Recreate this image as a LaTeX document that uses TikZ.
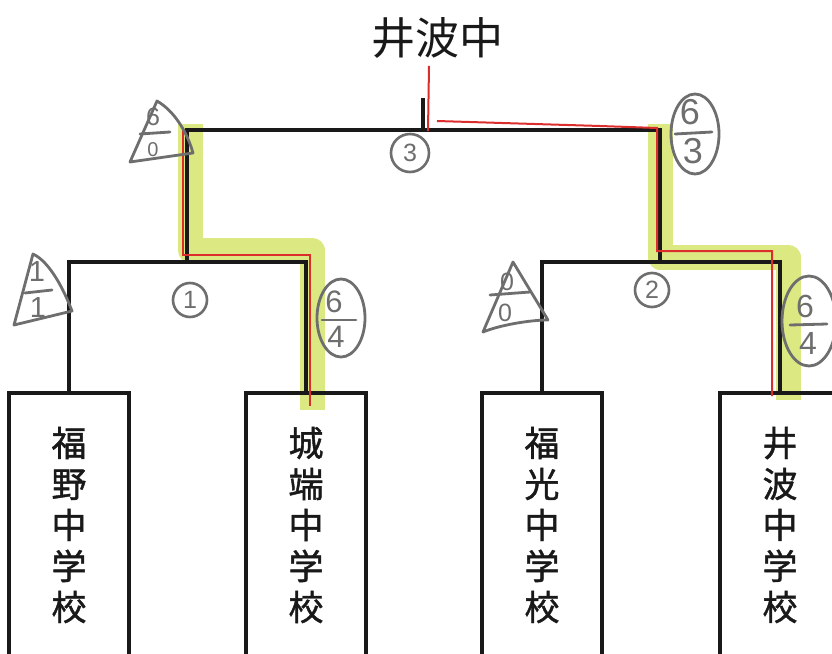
\documentclass[tikz,border=0pt]{standalone}
\usepackage{fontspec}
\setmainfont{Liberation Sans}
\newfontfamily\jp{Noto Sans CJK JP}
\newfontfamily\jpm{Noto Sans CJK JP}[FakeBold=1.2]
\usetikzlibrary{shapes.geometric}
\definecolor{hl}{RGB}{212,228,100}
\definecolor{pen}{RGB}{110,110,110}
\definecolor{redpen}{RGB}{220,45,45}
\definecolor{ink}{RGB}{25,25,25}
\newcommand\fsz[1]{\fontsize{#1}{#1}\selectfont}
\begin{document}
\begin{tikzpicture}[x=1pt,y=-1pt,
  team/.style={draw=ink,line width=3.4pt,minimum width=120pt,minimum height=264pt,inner sep=0pt,font=\jpm\fontsize{35}{41}\selectfont,align=center,text=ink},
  bracket/.style={draw=ink,line width=3.4pt},
  redline/.style={draw=redpen,line width=2pt},
  hilite/.style={draw=hl,line width=25pt,opacity=0.8,line join=round},
  penline/.style={draw=pen,line width=2.8pt,line cap=round,line join=round},
  dig/.style={text=pen,inner sep=0pt},
  circnum/.style={circle,draw=pen,line width=2.6pt,minimum size=34pt,inner sep=0pt,text=pen,font=\fsz{25}},
  oval/.style={ellipse,draw=pen,line width=2.8pt,inner sep=0pt}]
\fill[white] (0,0) rectangle (832,653);
\useasboundingbox (0,0) rectangle (832,653);
\clip (0,0) rectangle (832,653);

% highlights
\draw[hilite] (190,124) -- (190,250) -- (312,250) -- (312,410);
\draw[hilite] (660,124) -- (660,257) -- (788,257) -- (788,400);

% team boxes
\node[team] (b1) at (69,525) {福\\野\\中\\学\\校};
\node[team] (b2) at (306,525) {城\\端\\中\\学\\校};
\node[team] (b3) at (542,525) {福\\光\\中\\学\\校};
\node[team] (b4) at (780,525) {井\\波\\中\\学\\校};

% bracket
\coordinate (m1) at (187,262);
\coordinate (m2) at (660,262);
\coordinate (m3) at (423,130);
\coordinate (top) at (423,98);
\draw[bracket] (b1.north) |- (m1) -| (b2.north);
\draw[bracket] (b3.north) |- (m2) -| (b4.north);
\draw[bracket] (m1) |- (m3);
\draw[bracket] (m2) |- (m3);
\draw[bracket] (m3) -- (top);

% red winner path
\draw[redline] (310,406) -- (310,255) -- (183,255) -- (183,129);
\draw[redline] (772,396) -- (772,251) -- (657,251) -- (657,128) -- (600,126) -- (437,121);
\draw[redline] (428,131) -- (429,66);

% title
\node[text=ink,font=\jp\fsz{44}] (title) at (437,38) {井波中};

% match numbers
\node[circnum] (c1) at (190,300) {1};
\node[circnum] (c2) at (652,290) {2};
\node[circnum, minimum size=38pt] (c3) at (410,153) {3};

% 6/0 triangle
\node[dig,font=\fsz{25}] (s1a) at (153,117) {6};
\node[dig,font=\fsz{20}] (s1b) at (153,150) {0};
\draw[penline] (140,134) -- (170,132);
\draw[penline] (130,162) -- (157,101) .. controls (176,112) and (188,135) .. (193,153) -- cycle;

% 1/1 triangle
\node[dig,font=\fsz{29}] (s2a) at (37,272) {1};
\node[dig,font=\fsz{29}] (s2b) at (38,308) {1};
\draw[penline] (25,293) -- (52,290);
\draw[penline] (14,325) -- (33,254) .. controls (50,262) and (64,290) .. (72,311) -- cycle;

% 0/0 triangle
\node[dig,font=\fsz{25}] (s3a) at (507,282) {0};
\node[dig,font=\fsz{25}] (s3b) at (505,313) {0};
\draw[penline] (490,295) -- (530,292);
\draw[penline] (483,332) -- (513,262) -- (548,320) .. controls (530,320) and (500,325) .. cycle;

% 6/3 oval
\node[oval,minimum width=48pt,minimum height=80pt] (o1) at (695,134) {};
\node[dig,font=\fsz{36}] (s4a) at (690,112) {6};
\node[dig,font=\fsz{36}] (s4b) at (693,151) {3};
\draw[penline] (675,134) -- (712,132);

% 6/4 left oval
\node[oval,minimum width=48pt,minimum height=78pt] (o2) at (341,318) {};
\node[dig,font=\fsz{31}] (s5a) at (334,302) {6};
\node[dig,font=\fsz{31}] (s5b) at (336,337) {4};
\draw[penline] (322,320) -- (356,320);

% 6/4 right oval
\node[oval,minimum width=54pt,minimum height=90pt] (o3) at (809,321) {};
\node[dig,font=\fsz{32}] (s6a) at (805,306) {6};
\node[dig,font=\fsz{32}] (s6b) at (808,343) {4};
\draw[penline] (790,325) -- (827,324);
\end{tikzpicture}
\end{document}
